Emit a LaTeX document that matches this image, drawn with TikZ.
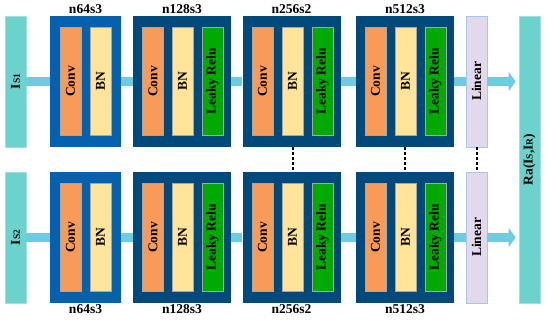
\documentclass[tikz,border=0pt]{standalone}
\usepackage{fontspec}
\setmainfont{Liberation Serif}
\usepackage{graphicx}
\usetikzlibrary{arrows.meta}
\definecolor{inbar}{HTML}{6CD2CC}
\definecolor{inbord}{HTML}{9FE0DC}
\definecolor{linkc}{HTML}{6ECCE0}
\definecolor{blkA}{HTML}{0561AD}
\definecolor{blkB}{HTML}{00497B}
\definecolor{convc}{HTML}{F99B58}
\definecolor{bnc}{HTML}{FFE499}
\definecolor{lrc}{HTML}{00AA00}
\definecolor{linc}{HTML}{E2D9EC}
\definecolor{linb}{HTML}{A8C6EA}
\tikzset{
  txt/.style={font=\bfseries\fontsize{13.5}{15}\selectfont, text=black},
  tallbar/.style={txt, inner sep=0pt, minimum width=21pt, minimum height=131pt},
  inbox/.style={tallbar, fill=inbar, draw=inbord, line width=0.6pt},
  outbox/.style={tallbar, fill=inbar, draw=inbord, line width=0.6pt, minimum height=287pt},
  linbox/.style={tallbar, fill=linc, draw=linb, line width=0.8pt},
  blockA/.style={fill=blkA, inner sep=0pt, minimum width=71pt, minimum height=131pt},
  blockB/.style={fill=blkB, inner sep=0pt, minimum width=98pt, minimum height=131pt},
  layer/.style={txt, inner sep=0pt, minimum width=21pt, minimum height=108pt, draw=black!35, line width=0.3pt},
  convl/.style={layer, fill=convc},
  bnl/.style={layer, fill=bnc},
  lrl/.style={layer, fill=lrc},
  blabel/.style={txt, inner sep=1.5pt},
  linkline/.style={draw=linkc, line width=9pt},
  linkarrow/.style={linkline, -{Triangle[width=19pt,length=7pt]}, shorten >=3pt},
  tie/.style={draw=black, line width=2pt, dash pattern=on 3pt off 2pt}
}
\newcommand{\rt}[1]{\rotatebox{90}{#1}}
\newcommand{\smallcap}[1]{{\fontsize{9.5}{10}\selectfont #1}}
\begin{document}
\begin{tikzpicture}[x=1pt,y=-1pt]
\useasboundingbox (0,0) rectangle (550,320);

% output bar
\node[outbox] (out) at (529.5,159.5) {\rt{Ra(I\smallcap{S},I\smallcap{R})}};

\foreach \r/\yc/\sub/\pos/\anc in {1/81.5/S1/north/south, 2/237.5/S2/south/north} {
  \node[inbox] (in\r) at (15.5,\yc) {\rt{I\smallcap{\sub}}};
  % block 1
  \node[blockA] (ba\r) at (85.5,\yc) {};
  \node[convl] (ca\r) at (70.5,\yc) {\rt{Conv}};
  \node[bnl] (na\r) at (100.5,\yc) {\rt{BN}};
  % block 2
  \node[blockB] (bb\r) at (182,\yc) {};
  \node[convl] (cb\r) at (153,\yc) {\rt{Conv}};
  \node[bnl] (nb\r) at (182.5,\yc) {\rt{BN}};
  \node[lrl] (lb\r) at (212.5,\yc) {\rt{Leaky Relu}};
  % block 3
  \node[blockB] (bc\r) at (291.5,\yc) {};
  \node[convl] (cc\r) at (262.5,\yc) {\rt{Conv}};
  \node[bnl] (nc\r) at (292.5,\yc) {\rt{BN}};
  \node[lrl] (lc\r) at (322.5,\yc) {\rt{Leaky Relu}};
  % block 4
  \node[blockB] (bd\r) at (405,\yc) {};
  \node[convl] (cd\r) at (375.5,\yc) {\rt{Conv}};
  \node[bnl] (nd\r) at (405.5,\yc) {\rt{BN}};
  \node[lrl] (ld\r) at (435.5,\yc) {\rt{Leaky Relu}};
  % linear
  \node[linbox] (lin\r) at (476.5,\yc) {\rt{Linear}};
  % labels
  \node[blabel, anchor=\anc] (ta\r) at (ba\r.\pos) {n64s3};
  \node[blabel, anchor=\anc] (tb\r) at (bb\r.\pos) {n128s3};
  \node[blabel, anchor=\anc] (tc\r) at (bc\r.\pos) {n256s2};
  \node[blabel, anchor=\anc] (td\r) at (bd\r.\pos) {n512s3};
  % connectors
  \draw[linkline] (in\r.east) -- (ba\r.west);
  \draw[linkline] (ba\r.east) -- (bb\r.west);
  \draw[linkline] (bb\r.east) -- (bc\r.west);
  \draw[linkline] (bc\r.east) -- (bd\r.west);
  \draw[linkline] (bd\r.east) -- (lin\r.west);
  \draw[linkarrow] (lin\r.east) -- (out.west |- lin\r.east);
}
% shared-weight ties
\draw[tie] (nc1.south |- bc1.south) -- (nc2.north |- bc2.north);
\draw[tie] (bd1.south) -- (bd2.north);
\draw[tie] (lin1.south) -- (lin2.north);
\end{tikzpicture}
\end{document}
